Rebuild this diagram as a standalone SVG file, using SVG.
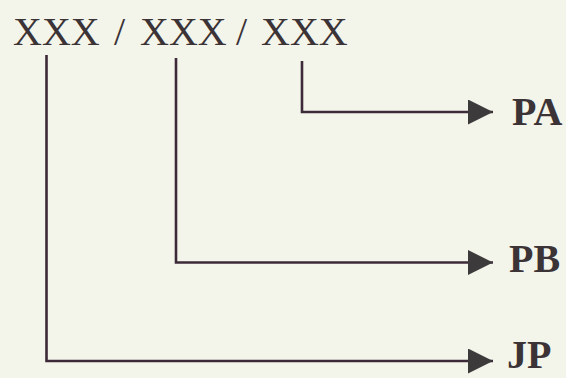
<svg xmlns="http://www.w3.org/2000/svg" width="566" height="378" viewBox="0 0 566 378">
  <defs>
    <style>
      .title { font-family: "Liberation Serif", "Times New Roman", serif; font-size: 40px; fill: #3b3336; }
      .lbl { font-family: "Liberation Serif", "Times New Roman", serif; font-size: 40px; font-weight: bold; fill: #3b3336; }
      .conn { fill: none; stroke: #3d2a38; stroke-width: 2.6; }
    </style>
    <marker id="arrow" markerUnits="userSpaceOnUse" markerWidth="26" markerHeight="26" refX="25" refY="12.5" orient="auto">
      <path d="M0,0 L25,12.5 L0,25 Z" fill="#3d3a3c"/>
    </marker>
  </defs>
  <rect width="566" height="378" fill="#f3f5ea"/>
  <g id="title">
    <text class="title" y="45"><tspan x="13">XXX</tspan><tspan x="114">/</tspan><tspan x="140">XXX</tspan><tspan x="236">/</tspan><tspan x="261">XXX</tspan></text>
  </g>
  <g id="connectors">
    <path class="conn" d="M302,61 V112 H493" marker-end="url(#arrow)"/>
    <path class="conn" d="M176,58 V262.5 H493" marker-end="url(#arrow)"/>
    <path class="conn" d="M46.5,55 V361 H493" marker-end="url(#arrow)"/>
  </g>
  <g id="PA"><text class="lbl" x="512" y="125">PA</text></g>
  <g id="PB"><text class="lbl" x="509" y="272">PB</text></g>
  <g id="JP"><text class="lbl" x="507" y="368">JP</text></g>
</svg>
